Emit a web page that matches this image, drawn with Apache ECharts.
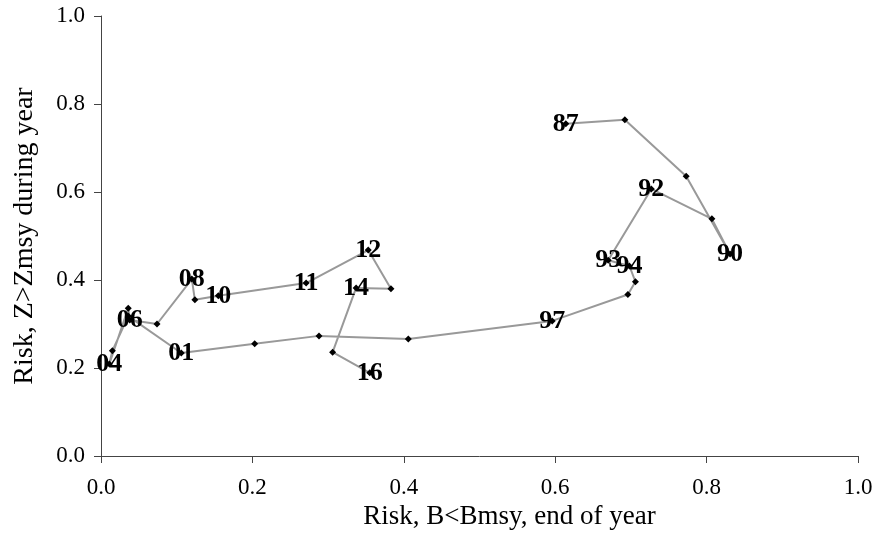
<!DOCTYPE html>
<html>
<head>
<meta charset="utf-8">
<script src="https://cdn.jsdelivr.net/npm/echarts@6/dist/echarts.min.js"></script>
<style>html,body{margin:0;padding:0;background:#fff;}#c{width:877px;height:548px;}</style>
</head>
<body>
<div id="c"></div>
<script>
const years = ['87','88','89','90','91','92','93','94','95','96','97','98','99','00','01','02','03','04','05','06','07','08','09','10','11','12','13','14','15','16'];
const riskB = [0.614,0.692,0.773,0.831,0.807,0.727,0.670,0.698,0.706,0.696,0.596,0.406,0.288,0.203,0.106,0.036,0.015,0.011,0.036,0.038,0.074,0.120,0.124,0.155,0.271,0.353,0.383,0.337,0.306,0.355];
const riskZ = [0.755,0.764,0.636,0.459,0.539,0.607,0.445,0.432,0.396,0.367,0.307,0.266,0.273,0.255,0.234,0.318,0.239,0.209,0.336,0.309,0.300,0.402,0.355,0.364,0.393,0.468,0.380,0.382,0.236,0.189];
const labelled = ['87','90','92','93','94','97','01','04','06','08','10','11','12','14','16'];
const ticks = [0.0,0.2,0.4,0.6,0.8,1.0];

const data = years.map((y,i)=>({value:[riskB[i],riskZ[i]], name:y}));
const chart = echarts.init(document.getElementById('c'));
function axis(extra){
  return Object.assign({
    type:'value', min:ticks[0], max:ticks[ticks.length-1], interval:ticks[1]-ticks[0],
    axisLine:{show:true,lineStyle:{color:'#444',width:1}},
    axisTick:{show:true,inside:false,length:7,lineStyle:{color:'#444'}},
    splitLine:{show:false},
    nameLocation:'middle'
  }, extra);
}
chart.setOption({
  animation:false,
  backgroundColor:'#fff',
  grid:{left:101,right:19,top:16,bottom:92},
  xAxis:axis({
    name:'Risk, B<Bmsy, end of year', nameGap:47,
    nameTextStyle:{fontFamily:'Liberation Serif',fontSize:27,color:'#000',padding:[0,0,0,60]},
    axisLabel:{fontFamily:'Liberation Serif',fontSize:23,color:'#000',margin:20,formatter:v=>v.toFixed(1)}
  }),
  yAxis:axis({
    name:'Risk, Z>Zmsy during year', nameGap:62,
    nameTextStyle:{fontFamily:'Liberation Serif',fontSize:28,color:'#000'},
    axisLabel:{fontFamily:'Liberation Serif',fontSize:23,color:'#000',margin:16,formatter:v=>v.toFixed(1)}
  }),
  series:[{
    type:'line',
    data:data,
    symbol:'diamond',
    symbolSize:7,
    itemStyle:{color:'#000'},
    lineStyle:{color:'#999',width:2},
    label:{
      show:true,position:'inside',
      formatter:p=>labelled.includes(p.name)?p.name:'',
      fontFamily:'Liberation Serif',fontWeight:'bold',fontSize:26,color:'#000'
    },
    z:2
  }]
});
</script>
</body>
</html>
